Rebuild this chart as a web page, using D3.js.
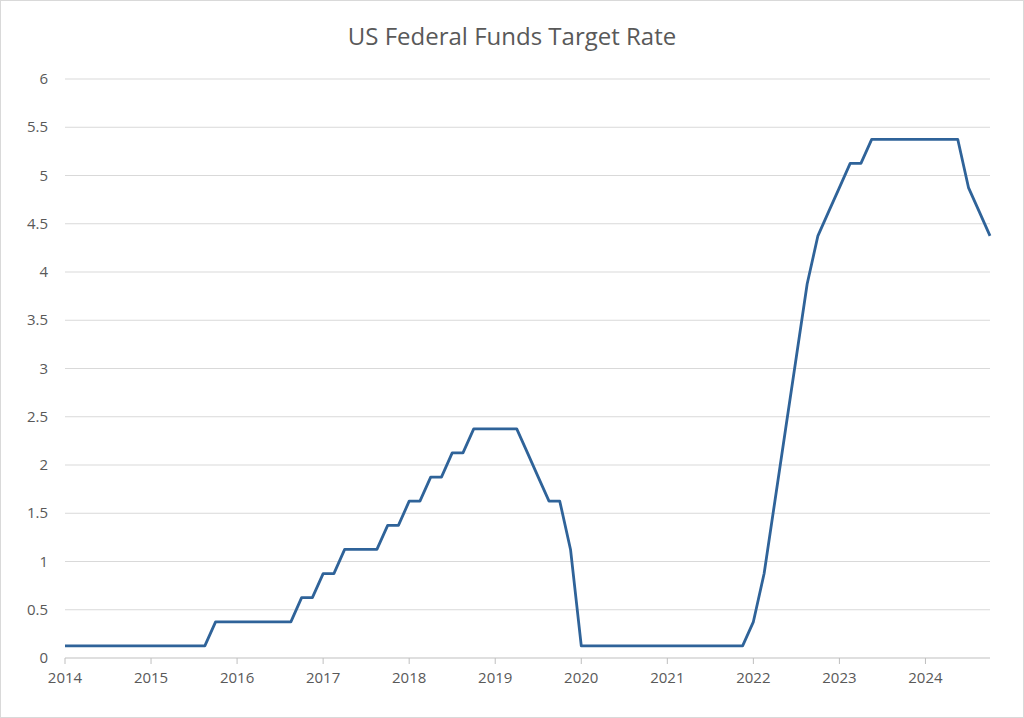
<!DOCTYPE html>
<html><head><meta charset="utf-8">
<script src="https://cdn.jsdelivr.net/npm/d3@7"></script>
<style>body{margin:0;background:#fff}svg{display:block}</style></head>
<body><svg id="c" width="1024" height="718"></svg>
<script>
// FOMC meeting-by-meeting target rate (midpoint of range), 8 meetings per year
const rates = [
 0.125,0.125,0.125,0.125,0.125,0.125,0.125,0.125,0.125,0.125,0.125,0.125,0.125,0.125,
 0.375,0.375,0.375,0.375,0.375,0.375,0.375,0.375,
 0.625,0.625,0.875,0.875,
 1.125,1.125,1.125,1.125,
 1.375,1.375,1.625,1.625,1.875,1.875,2.125,2.125,
 2.375,2.375,2.375,2.375,2.375,
 2.125,1.875,1.625,1.625,1.125,
 0.125,0.125,0.125,0.125,0.125,0.125,0.125,0.125,0.125,0.125,0.125,0.125,0.125,0.125,0.125,0.125,
 0.375,0.875,1.625,2.375,3.125,3.875,4.375,4.625,4.875,5.125,5.125,
 5.375,5.375,5.375,5.375,5.375,5.375,5.375,5.375,5.375,
 4.875,4.625,4.375
];
const yearLabels = ["2014","2015","2016","2017","2018","2019","2020","2021","2022","2023","2024"];
const yTicks = [0,0.5,1,1.5,2,2.5,3,3.5,4,4.5,5,5.5,6];
const perYear = 8;

const svg = d3.select("#c");
svg.append("rect").attr("x",0.5).attr("y",0.5).attr("width",1023).attr("height",717)
  .attr("fill","#fff").attr("stroke","#d9d9d9");
const x = d3.scaleLinear().domain([0, rates.length-1]).range([65, 990]);
const y = d3.scaleLinear().domain([0,6]).range([658, 79]);
const font = "'Open Sans', 'Liberation Sans', sans-serif";

svg.append("text").attr("x",512).attr("y",45).attr("text-anchor","middle")
  .attr("font-family",font).attr("font-size",24).attr("fill","#595959")
  .text("US Federal Funds Target Rate");

svg.append("g").selectAll("line").data(yTicks.filter(d=>d>0)).join("line")
  .attr("x1",65).attr("x2",990).attr("y1",d=>y(d)).attr("y2",d=>y(d))
  .attr("stroke","#d9d9d9").attr("stroke-width",1);

svg.append("g").selectAll("text").data(yTicks).join("text")
  .attr("x",48).attr("y",d=>y(d)+5).attr("text-anchor","end")
  .attr("font-family",font).attr("font-size",15).attr("fill","#595959")
  .text(d=>d);

svg.append("line").attr("x1",65).attr("x2",990).attr("y1",658).attr("y2",658)
  .attr("stroke","#bfbfbf");
svg.append("g").selectAll("line").data(yearLabels).join("line")
  .attr("x1",(d,i)=>x(i*perYear)).attr("x2",(d,i)=>x(i*perYear))
  .attr("y1",658).attr("y2",664).attr("stroke","#bfbfbf");
svg.append("g").selectAll("text").data(yearLabels).join("text")
  .attr("x",(d,i)=>x(i*perYear)).attr("y",683).attr("text-anchor","middle")
  .attr("font-family",font).attr("font-size",15).attr("fill","#595959")
  .text(d=>d);

svg.append("path").datum(rates)
  .attr("d", d3.line().x((d,i)=>x(i)).y(d=>y(d)))
  .attr("fill","none").attr("stroke","#2f6399").attr("stroke-width",2.8)
  .attr("stroke-linejoin","round");
</script></body></html>
